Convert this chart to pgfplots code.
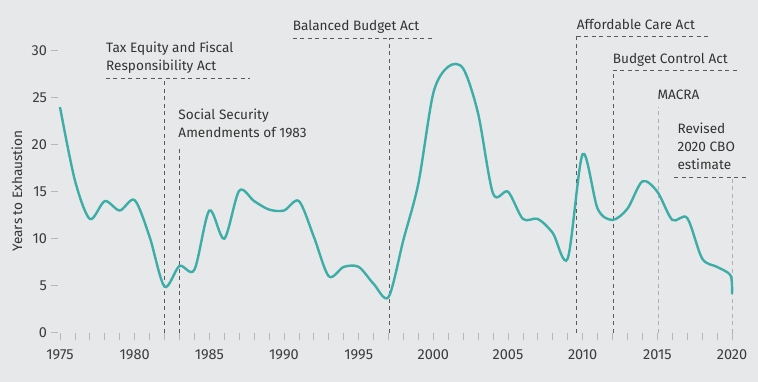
\documentclass[border=0pt]{standalone}
\usepackage{fontspec}
\setmainfont{Fira Sans}
\usepackage{pgfplots}
\pgfplotsset{compat=1.18}
\definecolor{bg}{HTML}{E7E8E9}
\definecolor{teal1}{HTML}{3DADA8}
\definecolor{txt}{HTML}{333333}
\definecolor{tl}{HTML}{3C3C3C}
\definecolor{dash1}{HTML}{5A5A5A}
\definecolor{dash2}{HTML}{AFAFAF}
\definecolor{tk}{HTML}{B8B8B8}
\pgfplotstableread{
year val
1975 24
1976 16.2
1977 12.1
1978 14
1979 13
1980 14.1
1981 10.2
1982 4.9
1983 7.1
1984 6.7
1985 13
1986 10
1987 15.1
1988 14
1989 13.1
1990 13
1991 14
1992 10.2
1993 6
1994 7
1995 7
1996 5.2
1997 3.8
1998 9.9
1999 15.9
2000 25.5
2001 28.3
2002 28.1
2003 23.3
2004 14.8
2005 15
2006 12.1
2007 12.1
2008 10.6
2009 7.9
2010 19
2011 13.2
2012 12
2013 13.2
2014 16.1
2015 15
2016 12
2017 12.2
2018 7.9
2019 7
2019.9 6.1
2020 4.1
}\exhaust
\begin{document}
\fontsize{13bp}{15bp}\selectfont
\begin{tikzpicture}
\fill[bg] (0,0) rectangle (758bp,382bp);
\begin{axis}[at={(60bp,49.3bp)}, anchor=south west, scale only axis,
  width=672bp, height=319.6bp, xmin=1975, xmax=2020, ymin=0, ymax=34,
  clip=false,
  axis x line*=bottom, axis y line*=left, axis line style={draw=none},
  xtick={1975,1980,...,2020}, minor x tick num=4, ytick={0,5,...,30},
  tick align=outside, major tick length=7bp, minor tick length=7bp,
  x tick style={tk, line width=0.8bp},
  y tick style={tk, line width=0.8bp, xshift=-2bp},
  /pgf/number format/assume math mode=true,
  /pgf/number format/1000 sep={},
  xticklabel style={tl, font=\fontsize{14.5bp}{16bp}\selectfont, yshift=-5bp},
  yticklabel style={tl, font=\fontsize{14.5bp}{16bp}\selectfont, xshift=-1.5bp},
]
\tikzset{dl/.style={dash1, line width=0.8bp, dash pattern=on 4bp off 3.5bp},
         dl2/.style={dash2, line width=0.8bp, dash pattern=on 4bp off 3.5bp},
         lab/.style={anchor=base west, inner sep=0pt, txt, font=\fontsize{13.6bp}{15bp}\selectfont}}
% Tax Equity
\draw[dl] (axis cs:1982,0) -- (axis cs:1982,27.1);
\draw[dl] (axis cs:1978.08,27.1) -- (axis cs:1987.72,27.1);
\node[lab] at (axis cs:1978.08,29.81) {Tax Equity and Fiscal};
\node[lab] at (axis cs:1978.08,27.87) {Responsibility Act};
% Social Security
\draw[dl] (axis cs:1983,0) -- (axis cs:1983,19.86);
\node[lab] at (axis cs:1982.92,22.63) {Social Security};
\node[lab] at (axis cs:1982.92,20.79) {Amendments of 1983};
% Balanced Budget
\draw[dl] (axis cs:1997.05,0) -- (axis cs:1997.05,31.32);
\draw[dl] (axis cs:1990.58,31.32) -- (axis cs:2000.05,31.32);
\node[lab] at (axis cs:1990.58,32.13) {Balanced Budget Act};
% ACA
\draw[dl] (axis cs:2009.6,0) -- (axis cs:2009.6,31.56);
\draw[dl] (axis cs:2009.6,31.56) -- (axis cs:2018.53,31.56);
\node[lab] at (axis cs:2009.6,32.3) {Affordable Care Act};
% BCA
\draw[dl] (axis cs:2012.03,0) -- (axis cs:2012.03,27.87);
\draw[dl] (axis cs:2012.03,27.87) -- (axis cs:2020.54,27.87);
\node[lab] at (axis cs:2012.01,28.59) {Budget Control Act};
% MACRA
\draw[dl2] (axis cs:2015.07,0) -- (axis cs:2015.07,24.04);
\node[lab] at (axis cs:2015.0,24.86) {MACRA};
% CBO
\draw[dl2] (axis cs:2020,0) -- (axis cs:2020,16.53);
\draw[dl] (axis cs:2016.12,16.53) -- (axis cs:2021.07,16.53);
\node[lab] at (axis cs:2016.34,21.14) {Revised};
\node[lab] at (axis cs:2016.34,19.26) {2020 CBO};
\node[lab] at (axis cs:2016.34,17.38) {estimate};
\addplot[teal1, line width=2.4bp, smooth, tension=0.5, no markers] table[x=year, y=val] {\exhaust};
\end{axis}
\node[rotate=90, txt, font=\fontsize{13.6bp}{15bp}\selectfont] at (17bp,191bp) {Years to Exhaustion};
\pgfresetboundingbox
\useasboundingbox (0,0) rectangle (758bp,382bp);
\end{tikzpicture}
\end{document}
